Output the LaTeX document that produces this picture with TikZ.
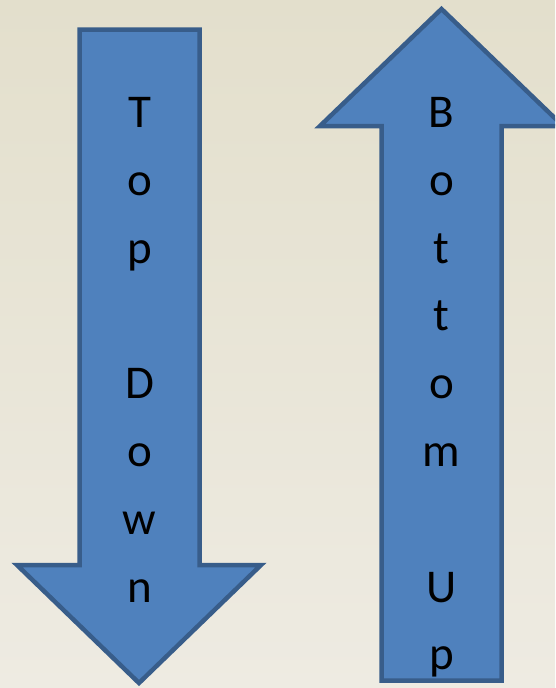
\documentclass[tikz,border=0pt]{standalone}
\usepackage{fontspec}
\setmainfont{Carlito}
\usetikzlibrary{positioning}
\definecolor{arrowfill}{HTML}{4F81BD}
\definecolor{arrowline}{HTML}{385D8A}
\definecolor{bgtop}{HTML}{E3DFCC}
\definecolor{bgbottom}{HTML}{EEEBE2}

\begin{document}
\begin{tikzpicture}[x=1pt, y=-1pt,
		arrowshape/.style={fill=arrowfill, draw=arrowline,
			line width=4.5pt, miter limit=20},
		letter/.style={font=\fontsize{47}{68}\selectfont,
			anchor=base, inner sep=0pt}]
	% background
	\shade [top color=bgtop, bottom color=bgbottom] (0,0) rectangle (555,688);
	\clip (0,0) rectangle (555,688);

	% top down arrow
	\draw [arrowshape] (79.5,29.5) -- (199.5,29.5) -- (199.5,565)
		-- (261,565) -- (139,683) -- (17,565) -- (79.5,565) -- cycle;
	\foreach \ch/\row in {T/0,o/1,p/2,D/4,o/5,w/6,n/7}
		\node [letter] (down-\row) at (139.5,127.5+67.8*\row) {\ch};

	% bottom up arrow
	\draw [arrowshape] (381.5,680.5) -- (381.5,126) -- (320,126)
		-- (441.5,9) -- (563,126) -- (501.5,126) -- (501.5,680.5) -- cycle;
	\foreach \ch/\row in {B/0,o/1,t/2,t/3,o/4,m/5,U/7,p/8}
		\node [letter] (up-\row) at (441.5,127.5+67.8*\row) {\ch};
\end{tikzpicture}
\end{document}
